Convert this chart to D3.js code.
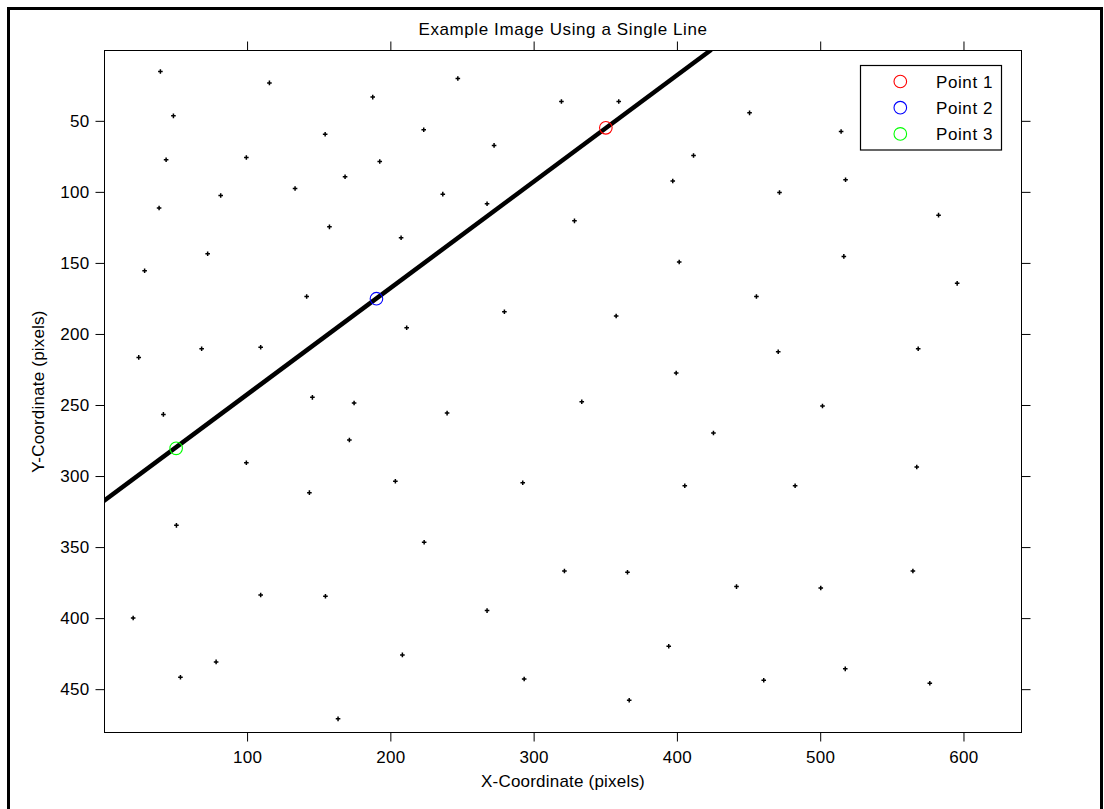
<!DOCTYPE html>
<html>
  <head>
    <meta charset="utf-8">
    <title>Example Image Using a Single Line</title>
    <script src="https://cdn.jsdelivr.net/npm/d3@7"></script>
    <style>
      body { margin: 0; background: #fff; }
      text { font-family: "Liberation Sans", Arial, sans-serif; fill: #000; }
    </style>
  </head>

  <body>
    <div id="chart"></div>

    <script>
      // scattered marker positions (image pixel coordinates)
      let dotX = [39.5, 115.6, 187.7, 247.1, 319.4, 48.6, 154.5, 223.3, 272.4, 43.5,
                  99.5, 192.6, 168.4, 133.5, 81.6, 236.6, 267.5, 38.6, 157.5, 207.5,
                  72.5, 28.5, 141.6, 279.6, 211.4, 24.4, 68.3, 109.5,
                  359.4, 450.7, 514.6, 411.6, 397.1, 517.7, 471.6, 582.6, 328.5, 401.6,
                  516.5, 595.6, 455.5, 357.6, 470.7, 568.4, 399.5,
                  145.6, 174.7, 41.6, 239.6, 171.4, 99.5, 203.5, 292.4, 143.5, 50.7,
                  223.6, 321.5, 109.5, 154.7, 267.5, 20.5, 208.4, 78.4, 53.5, 293.4, 163.5,
                  333.6, 501.6, 425.5, 567.4, 405.5, 482.5, 365.5, 441.6, 500.4, 564.7,
                  394.3, 517.5, 460.6, 576.5, 366.7];
      let dotY = [15.3, 23.3, 33.3, 20.2, 36.4, 46.5, 59.4, 56.3, 67.3, 77.4,
                  75.8, 78.6, 89.4, 97.6, 102.5, 101.6, 108.4, 111.4, 124.6, 132.3,
                  143.6, 155.5, 173.6, 184.4, 195.6, 216.5, 210.4, 209.4,
                  36.4, 44.4, 57.5, 74.4, 92.4, 91.5, 100.4, 116.4, 120.4, 149.4,
                  145.4, 164.4, 173.6, 187.4, 212.5, 210.4, 227.5,
                  244.6, 248.6, 256.6, 255.7, 274.6, 290.6, 303.7, 304.7, 311.7, 334.7,
                  346.6, 366.8, 383.7, 384.6, 394.7, 399.9, 425.9, 430.8, 441.6, 442.8, 470.9,
                  247.7, 250.7, 269.7, 293.6, 306.8, 306.8, 367.7, 377.8, 378.8, 366.8,
                  419.8, 435.7, 443.7, 445.8, 457.8];

      // the single fitted line
      let lineX = [0, 424];
      let lineY = [317.5, 0];

      // the three labelled points
      let pointNames = ["Point 1", "Point 2", "Point 3"];
      let pointX = [350.4, 190.3, 50.5];
      let pointY = [54.9, 175.2, 280.5];
      let pointColours = ["#ff0000", "#0000ff", "#00ff00"];

      let xTicks = [100, 200, 300, 400, 500, 600];
      let yTicks = [50, 100, 150, 200, 250, 300, 350, 400, 450];

      let width = 1104, height = 809;
      let plot = { left: 104.5, right: 1021.5, top: 50.5, bottom: 732.5 };

      let svg = d3.select("#chart")
        .append("svg")
          .attr("width", width)
          .attr("height", height);

      // outer frame (left, top, right)
      svg.append("path")
        .attr("d", d3.line()([[8.5, height], [8.5, 8.5], [1101.5, 8.5], [1101.5, height]]))
        .attr("fill", "none")
        .attr("stroke", "#000")
        .attr("stroke-width", 3);

      let x = d3.scaleLinear()
        .domain([0.5, 640.5])
        .range([plot.left, plot.right]);
      let y = d3.scaleLinear()
        .domain([0.5, 480.5])
        .range([plot.top, plot.bottom]);

      svg.append("clipPath")
          .attr("id", "plotClip")
        .append("rect")
          .attr("x", plot.left)
          .attr("y", plot.top)
          .attr("width", plot.right - plot.left)
          .attr("height", plot.bottom - plot.top);

      // axes: ticks outside on all four sides
      let tickLen = 9;
      let axisStyle = function(g) {
        g.select(".domain").remove();
        g.selectAll(".tick line").attr("stroke", "#000");
        g.selectAll(".tick text")
          .style("font-size", "17px")
          .style("letter-spacing", "0.3px")
          .attr("fill", "#000");
      };

      svg.append("g")
        .attr("transform", "translate(0," + plot.bottom + ")")
        .call(d3.axisBottom(x).tickValues(xTicks).tickSize(tickLen).tickPadding(9).tickFormat(d3.format("d")))
        .call(axisStyle);
      svg.append("g")
        .attr("transform", "translate(0," + plot.top + ")")
        .call(d3.axisTop(x).tickValues(xTicks).tickSize(tickLen).tickFormat(""))
        .call(axisStyle);
      svg.append("g")
        .attr("transform", "translate(" + plot.left + ",0)")
        .call(d3.axisLeft(y).tickValues(yTicks).tickSize(tickLen).tickPadding(6).tickFormat(d3.format("d")))
        .call(axisStyle);
      svg.append("g")
        .attr("transform", "translate(" + plot.right + ",0)")
        .call(d3.axisRight(y).tickValues(yTicks).tickSize(tickLen).tickFormat(""))
        .call(axisStyle);

      // plot box
      svg.append("rect")
        .attr("x", plot.left)
        .attr("y", plot.top)
        .attr("width", plot.right - plot.left)
        .attr("height", plot.bottom - plot.top)
        .attr("fill", "none")
        .attr("stroke", "#000")
        .attr("stroke-width", 1.2)
        .attr("shape-rendering", "crispEdges");

      let inner = svg.append("g").attr("clip-path", "url(#plotClip)");

      // scattered "+" markers
      inner.selectAll(".dot")
          .data(dotX.map(function(d, i) { return [d, dotY[i]]; }))
        .enter().append("path")
          .classed("dot", true)
          .attr("d", function(d) {
            let cx = x(d[0]), cy = y(d[1]);
            return "M" + (cx - 2.3) + "," + cy + "H" + (cx + 2.3) + "M" + cx + "," + (cy - 2.3) + "V" + (cy + 2.3);
          })
          .attr("stroke", "#000")
          .attr("stroke-width", 1.5);

      // the line
      inner.append("path")
        .attr("d", d3.line()
          .x(function(d) { return x(d[0]); })
          .y(function(d) { return y(d[1]); })(lineX.map(function(d, i) { return [d, lineY[i]]; })))
        .attr("fill", "none")
        .attr("stroke", "#000")
        .attr("stroke-width", 4.5);

      // the three points
      inner.selectAll(".point")
          .data(pointX)
        .enter().append("circle")
          .classed("point", true)
          .attr("cx", function(d) { return x(d); })
          .attr("cy", function(d, i) { return y(pointY[i]); })
          .attr("r", 6.3)
          .attr("fill", "none")
          .attr("stroke", function(d, i) { return pointColours[i]; })
          .attr("stroke-width", 1.1);

      // legend
      let legend = svg.append("g");
      legend.append("rect")
        .attr("x", 860.5)
        .attr("y", 65.5)
        .attr("width", 141)
        .attr("height", 84.5)
        .attr("fill", "#fff")
        .attr("stroke", "#000")
        .attr("stroke-width", 1.2);
      pointNames.forEach(function(name, i) {
        let ly = 81.5 + i * 26.2;
        legend.append("circle")
          .attr("cx", 900.3)
          .attr("cy", ly)
          .attr("r", 6.3)
          .attr("fill", "none")
          .attr("stroke", pointColours[i])
          .attr("stroke-width", 1.1);
        legend.append("text")
          .attr("x", 936)
          .attr("y", ly + 6)
          .style("font-size", "17px")
          .style("letter-spacing", "0.6px")
          .text(name);
      });

      // title and axis labels
      let midX = (plot.left + plot.right) / 2;
      svg.append("text")
        .attr("x", midX)
        .attr("y", 35)
        .attr("text-anchor", "middle")
        .style("font-size", "17px")
        .style("letter-spacing", "0.6px")
        .text("Example Image Using a Single Line");
      svg.append("text")
        .attr("x", midX)
        .attr("y", 787)
        .attr("text-anchor", "middle")
        .style("font-size", "17px")
        .style("letter-spacing", "0.2px")
        .text("X-Coordinate (pixels)");
      svg.append("text")
        .attr("transform", "translate(44," + ((plot.top + plot.bottom) / 2) + ") rotate(-90)")
        .attr("text-anchor", "middle")
        .style("font-size", "17px")
        .style("letter-spacing", "0.2px")
        .text("Y-Coordinate (pixels)");
    </script>
  </body>
</html>
